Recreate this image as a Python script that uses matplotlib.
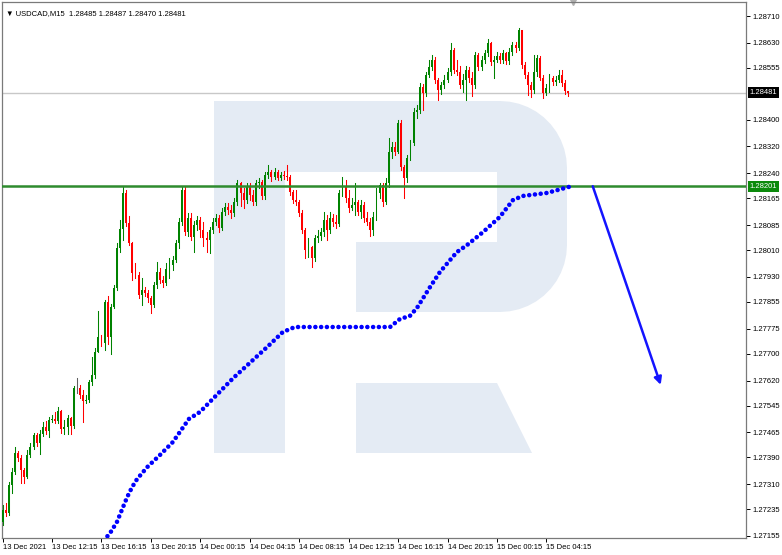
import numpy as np
import matplotlib.pyplot as plt
import matplotlib.transforms as mtransforms
from matplotlib.patches import Polygon

# USDCAD M15 bars, open of each bar = previous close
first_open = 1.27197
closes = [1.27233, 1.27224, 1.27307, 1.27346, 1.27403, 1.27388, 1.27352, 1.27331, 1.27397, 1.27421,
          1.27457, 1.27433, 1.27460, 1.27481, 1.27469, 1.27502, 1.27505, 1.27499, 1.27529, 1.27475,
          1.27481, 1.27508, 1.27484, 1.27597, 1.27597, 1.27576, 1.27559, 1.27562, 1.27615, 1.27636,
          1.27705, 1.27750, 1.27732, 1.27855, 1.27750, 1.27840, 1.27896, 1.28016, 1.28073, 1.28180,
          1.28091, 1.28031, 1.27941, 1.27935, 1.27875, 1.27890, 1.27881, 1.27866, 1.27846, 1.27905,
          1.27944, 1.27920, 1.27911, 1.27953, 1.27965, 1.27980, 1.28031, 1.28094, 1.28189, 1.28064,
          1.28106, 1.28049, 1.28085, 1.28100, 1.28070, 1.28046, 1.28040, 1.28070, 1.28094, 1.28106,
          1.28076, 1.28124, 1.28139, 1.28130, 1.28121, 1.28154, 1.28210, 1.28180, 1.28160, 1.28198,
          1.28174, 1.28154, 1.28210, 1.28213, 1.28171, 1.28234, 1.28243, 1.28228, 1.28243, 1.28225,
          1.28234, 1.28231, 1.28228, 1.28183, 1.28160, 1.28154, 1.28121, 1.28070, 1.28010, 1.28019,
          1.27986, 1.28046, 1.28052, 1.28064, 1.28100, 1.28070, 1.28106, 1.28094, 1.28088, 1.28180,
          1.28198, 1.28165, 1.28136, 1.28145, 1.28154, 1.28124, 1.28145, 1.28106, 1.28094, 1.28070,
          1.28109, 1.28180, 1.28204, 1.28154, 1.28210, 1.28303, 1.28318, 1.28303, 1.28390, 1.28258,
          1.28225, 1.28285, 1.28330, 1.28423, 1.28429, 1.28497, 1.28479, 1.28533, 1.28557, 1.28578,
          1.28518, 1.28488, 1.28503, 1.28518, 1.28542, 1.28608, 1.28548, 1.28542, 1.28503, 1.28518,
          1.28548, 1.28524, 1.28503, 1.28593, 1.28557, 1.28578, 1.28599, 1.28629, 1.28572, 1.28578,
          1.28590, 1.28578, 1.28599, 1.28575, 1.28602, 1.28623, 1.28614, 1.28668, 1.28563, 1.28533,
          1.28503, 1.28488, 1.28542, 1.28584, 1.28524, 1.28479, 1.28494, 1.28524, 1.28512, 1.28518,
          1.28533, 1.28509, 1.28485, 1.28481]
highs = [1.27248, 1.27254, 1.27316, 1.27358, 1.27421, 1.27409, 1.27397, 1.27358, 1.27412, 1.27433,
         1.27463, 1.27463, 1.27472, 1.27496, 1.27499, 1.27511, 1.27517, 1.27526, 1.27541, 1.27532,
         1.27502, 1.27517, 1.27511, 1.27603, 1.27627, 1.27606, 1.27591, 1.27576, 1.27621, 1.27690,
         1.27717, 1.27828, 1.27756, 1.27861, 1.27873, 1.27849, 1.27905, 1.28031, 1.28100, 1.28198,
         1.28189, 1.28112, 1.28034, 1.27971, 1.27944, 1.27926, 1.27899, 1.27890, 1.27872, 1.27914,
         1.27974, 1.27956, 1.27932, 1.27971, 1.27986, 1.27992, 1.28040, 1.28106, 1.28198, 1.28198,
         1.28121, 1.28121, 1.28097, 1.28112, 1.28109, 1.28094, 1.28064, 1.28079, 1.28106, 1.28118,
         1.28115, 1.28136, 1.28151, 1.28151, 1.28145, 1.28166, 1.28219, 1.28213, 1.28196, 1.28210,
         1.28210, 1.28190, 1.28219, 1.28225, 1.28219, 1.28243, 1.28264, 1.28249, 1.28255, 1.28249,
         1.28243, 1.28246, 1.28264, 1.28234, 1.28190, 1.28190, 1.28160, 1.28130, 1.28076, 1.28046,
         1.28022, 1.28055, 1.28070, 1.28076, 1.28124, 1.28115, 1.28124, 1.28118, 1.28115, 1.28189,
         1.28228, 1.28219, 1.28190, 1.28166, 1.28210, 1.28160, 1.28160, 1.28154, 1.28124, 1.28106,
         1.28124, 1.28195, 1.28210, 1.28210, 1.28225, 1.28345, 1.28333, 1.28333, 1.28399, 1.28399,
         1.28264, 1.28294, 1.28339, 1.28435, 1.28444, 1.28509, 1.28506, 1.28542, 1.28578, 1.28593,
         1.28587, 1.28524, 1.28512, 1.28533, 1.28554, 1.28629, 1.28614, 1.28578, 1.28560, 1.28536,
         1.28560, 1.28557, 1.28542, 1.28602, 1.28599, 1.28590, 1.28608, 1.28641, 1.28632, 1.28590,
         1.28602, 1.28599, 1.28608, 1.28602, 1.28614, 1.28632, 1.28632, 1.28674, 1.28668, 1.28572,
         1.28542, 1.28512, 1.28593, 1.28593, 1.28590, 1.28533, 1.28506, 1.28536, 1.28530, 1.28530,
         1.28548, 1.28548, 1.28518, 1.28487]
lows = [1.27188, 1.27215, 1.27218, 1.27283, 1.27340, 1.27379, 1.27313, 1.27313, 1.27328, 1.27391,
        1.27415, 1.27424, 1.27400, 1.27454, 1.27460, 1.27451, 1.27496, 1.27493, 1.27493, 1.27463,
        1.27460, 1.27460, 1.27460, 1.27478, 1.27582, 1.27567, 1.27496, 1.27553, 1.27556, 1.27606,
        1.27627, 1.27705, 1.27723, 1.27711, 1.27729, 1.27699, 1.27837, 1.27890, 1.28004, 1.28040,
        1.28082, 1.28025, 1.27920, 1.27926, 1.27866, 1.27846, 1.27872, 1.27855, 1.27822, 1.27840,
        1.27896, 1.27911, 1.27899, 1.27905, 1.27926, 1.27950, 1.27974, 1.28016, 1.28085, 1.28055,
        1.28052, 1.28040, 1.28004, 1.28070, 1.28049, 1.28022, 1.28004, 1.28001, 1.28061, 1.28086,
        1.28064, 1.28070, 1.28115, 1.28118, 1.28106, 1.28112, 1.28145, 1.28142, 1.28136, 1.28151,
        1.28160, 1.28145, 1.28145, 1.28195, 1.28162, 1.28162, 1.28225, 1.28216, 1.28222, 1.28219,
        1.28219, 1.28222, 1.28219, 1.28174, 1.28151, 1.28145, 1.28112, 1.28061, 1.27986, 1.27989,
        1.27959, 1.27976, 1.28034, 1.28040, 1.28052, 1.28040, 1.28061, 1.28082, 1.28076, 1.28082,
        1.28171, 1.28154, 1.28124, 1.28130, 1.28115, 1.28115, 1.28106, 1.28094, 1.28085, 1.28052,
        1.28055, 1.28100, 1.28165, 1.28142, 1.28148, 1.28200, 1.28285, 1.28294, 1.28300, 1.28249,
        1.28165, 1.28213, 1.28279, 1.28324, 1.28405, 1.28420, 1.28429, 1.28470, 1.28527, 1.28548,
        1.28509, 1.28459, 1.28476, 1.28494, 1.28512, 1.28533, 1.28539, 1.28533, 1.28494, 1.28482,
        1.28459, 1.28512, 1.28470, 1.28494, 1.28548, 1.28548, 1.28569, 1.28590, 1.28563, 1.28524,
        1.28572, 1.28569, 1.28569, 1.28566, 1.28566, 1.28593, 1.28602, 1.28608, 1.28554, 1.28524,
        1.28473, 1.28467, 1.28479, 1.28530, 1.28518, 1.28464, 1.28473, 1.28482, 1.28503, 1.28503,
        1.28512, 1.28500, 1.28476, 1.28470]

time_tick_bars = [0, 16, 32, 48, 64, 80, 96, 112, 128, 144, 160, 176]
time_tick_labels = ["13 Dec 2021", "13 Dec 12:15", "13 Dec 16:15", "13 Dec 20:15",
                    "14 Dec 00:15", "14 Dec 04:15", "14 Dec 08:15", "14 Dec 12:15",
                    "14 Dec 16:15", "14 Dec 20:15", "15 Dec 00:15", "15 Dec 04:15"]
price_ticks = [1.27155, 1.27235, 1.27310, 1.27390, 1.27465, 1.27545, 1.27620, 1.27700,
               1.27775, 1.27855, 1.27930, 1.28010, 1.28085, 1.28165, 1.28240, 1.28320,
               1.28400, 1.28555, 1.28630, 1.28710]

# dotted indicator line (key points)
trend_bars = [31.5, 34.8, 37.0, 39.0, 40.3, 41.9, 43.5, 46.8, 50.9, 55.1, 60.3, 63.9,
              74.6, 85.6, 90.7, 94.6, 125.4, 128.6, 131.8, 134.1, 138.3, 141.5, 147.0,
              150.3, 155.5, 160.9, 165.2, 168.4, 176.2, 183.3]
trend_prices = [1.27128, 1.27164, 1.27197, 1.27242, 1.27271, 1.27301, 1.27325, 1.27361,
                1.27397, 1.27436, 1.27505, 1.27526, 1.27627, 1.27720, 1.27765, 1.27780,
                1.27780, 1.27804, 1.27813, 1.27837, 1.27899, 1.27944, 1.28004, 1.28025,
                1.28064, 1.28109, 1.28160, 1.28172, 1.28181, 1.28199]

level = 1.28201
last_price = 1.28481
arrow_start = (191, 1.28201)
arrow_end = (213, 1.27607)

W, H = 782, 555
fig = plt.figure(figsize=(W / 100, H / 100), dpi=100)
ax = fig.add_axes([2 / W, 1 - 538 / H, 744 / W, 536 / H])
ax.set_xlim(-0.2, 240.6)
ax.set_ylim(1.27149, 1.28752)

# watermark logo, drawn in pixel space
px = mtransforms.Affine2D().scale(1 / W, -1 / H).translate(0, 1) + fig.transFigure
wm = '#e4ebf4'
r = 67
t1 = np.linspace(np.pi / 2, 0, 12)
t2 = np.linspace(0, -np.pi / 2, 12)
outline = [(214, 101), (567 - r, 101)]
outline += [(567 - r + r * np.cos(a), 101 + r - r * np.sin(a)) for a in t1]
outline += [(567, 312 - r)]
outline += [(567 - r + r * np.cos(a), 312 - r - r * np.sin(a)) for a in t2]
outline += [(356, 312), (356, 242), (497, 242), (497, 172), (285, 172), (285, 453), (214, 453)]
ax.add_patch(Polygon(outline, closed=True, transform=px, facecolor=wm, edgecolor='none', zorder=0))
ax.add_patch(Polygon([(356, 383), (497, 383), (532, 453), (356, 453)], closed=True,
                     transform=px, facecolor=wm, edgecolor='none', zorder=0))

# current price line
ax.axhline(last_price, color='#c8c8c8', lw=1, zorder=1)

# candles
opens = [first_open] + closes[:-1]
for i, (o, h, l, c) in enumerate(zip(opens, highs, lows, closes)):
    if c > o:
        col = '#008200'
    elif c < o:
        col = '#ff0000'
    else:
        col = '#606060'
    ax.plot([i, i], [l, h], color=col, lw=0.75, zorder=2)
    ax.bar(i, max(abs(c - o), 0.000015), bottom=min(o, c), width=0.62, color=col,
           linewidth=0, zorder=3)

# support line
ax.axhline(level, color='#2e8b2e', lw=1.8, zorder=4)

# dotted indicator
ax.plot(trend_bars, trend_prices, color='#0000ff', lw=3.3, linestyle=(0, (0.01, 1.25)),
        dash_capstyle='round', zorder=5)

# forecast arrow
ax.annotate('', xy=arrow_end, xytext=arrow_start,
            arrowprops=dict(arrowstyle='-|>', color='#1414ff', lw=1.8,
                            mutation_scale=11, shrinkA=0, shrinkB=0), zorder=6)

fnt = ['Liberation Sans', 'DejaVu Sans']
ax.set_yticks(price_ticks)
ax.set_yticklabels(['%.5f' % p for p in price_ticks], fontsize=5.5, family=fnt)
ax.yaxis.tick_right()
ax.tick_params(axis='y', length=3, width=0.7, pad=1.5, colors='#000000')
ax.set_xticks(time_tick_bars)
ax.set_xticklabels(time_tick_labels, fontsize=5.5, family=fnt)
for lab in ax.get_xticklabels():
    lab.set_ha('left')
ax.tick_params(axis='x', length=3, width=0.7, pad=1.5, colors='#000000')
for s in ax.spines.values():
    s.set_color('#7a7a7a')
    s.set_linewidth(0.9)

# price labels on the right axis
for price, bg in [(last_price, '#000000'), (level, '#0c8a0c')]:
    ax.annotate('%.5f' % price, xy=(1.0, price), xycoords=('axes fraction', 'data'),
                xytext=(2.5, 0), textcoords='offset points', ha='left', va='center',
                fontsize=5.5, family=fnt, color='white',
                bbox=dict(boxstyle='square,pad=0.25', fc=bg, ec='none'))

ax.text(0.005, 0.985, '\u25bc USDCAD,M15  1.28485 1.28487 1.28470 1.28481',
        transform=ax.transAxes, fontsize=5.5, family=fnt, va='top', ha='left', color='#000000')
ax.plot([(573 - 2) / 744], [1.0], marker='v', color='#b0b0b0', markersize=5,
        transform=ax.transAxes, clip_on=False)

fig.savefig('out.png', dpi=100)
